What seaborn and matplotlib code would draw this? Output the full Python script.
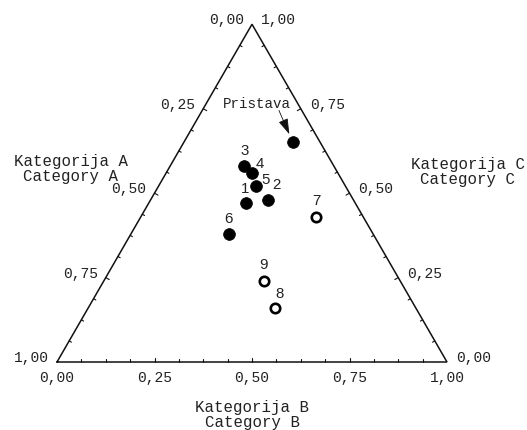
import numpy as np
import pandas as pd
import matplotlib
matplotlib.use("Agg")
import matplotlib.pyplot as plt
import seaborn as sns

# ---- data (fractions of categories A, B, C) ----
labels = ["Pristava", "1", "2", "3", "4", "5", "6", "7", "8", "9"]
cat_a = [0.07, 0.28, 0.22, 0.23, 0.22, 0.23, 0.37, 0.12, 0.36, 0.35]
cat_b = [0.28, 0.25, 0.30, 0.19, 0.22, 0.25, 0.25, 0.45, 0.48, 0.41]
cat_c = [0.65, 0.47, 0.48, 0.58, 0.56, 0.52, 0.38, 0.43, 0.16, 0.24]
marker_kind = ["filled"] * 7 + ["open"] * 3

tick_values = [0.0, 0.25, 0.50, 0.75, 1.0]
tick_text = ["0,00", "0,25", "0,50", "0,75", "1,00"]
title_a = "Kategorija A\nCategory A"
title_b = "Kategorija B\nCategory B"
title_c = "Kategorija C\nCategory C"

# label offsets (pixels) for point numbers
label_offsets = {"1": (-1, 14), "2": (9, 15), "3": (0, 15), "4": (8, 9),
                 "5": (10, 6), "6": (0, 15), "7": (0, 16), "8": (4, 14),
                 "9": (0, 16)}

sns.set_theme(style="white")
plt.rcParams["font.family"] = ["Liberation Mono", "DejaVu Sans"]

H = np.sqrt(3) / 2
df = pd.DataFrame(dict(label=labels, A=cat_a, B=cat_b, C=cat_c, kind=marker_kind))
tot = df.A + df.B + df.C
df["x"] = (df.B + df.C / 2) / tot
df["y"] = df.C * H / tot

fig = plt.figure(figsize=(5.27, 4.30), dpi=100)
ax = fig.add_axes([0, 0, 1, 1])
S = 390.0
ax.set_xlim(-57 / S, 470 / S)
ax.set_ylim(-68 / S, 362 / S)
ax.axis("off")

ink = "#111111"
txt = "#222222"
# triangle frame
ax.plot([0, 1, 0.5, 0], [0, 0, H, 0], color=ink, lw=1.1,
        solid_joinstyle="miter", zorder=2)

# ticks every 1/16
for k in range(1, 16):
    v = k / 16
    L = (4.0 if k % 4 == 0 else 2.6) / S
    # bottom (B)
    ax.plot([v, v], [0, L], color=ink, lw=0.8)
    # left (A)
    px, py = (1 - v) / 2, (1 - v) * H
    ax.plot([px, px + L * H], [py, py - L * 0.5], color=ink, lw=0.8)
    # right (C)
    px, py = 1 - v / 2, v * H
    ax.plot([px, px - L * H], [py, py - L * 0.5], color=ink, lw=0.8)

tfs = 10.5
for v, t in zip(tick_values, tick_text):
    ax.annotate(t, (v, 0), xytext=(0, -16), textcoords="offset pixels",
                ha="center", va="center", fontsize=tfs, color=txt)
    ax.annotate(t, ((1 - v) / 2, (1 - v) * H), xytext=(-8, 4),
                textcoords="offset pixels", ha="right", va="center",
                fontsize=tfs, color=txt)
    ax.annotate(t, (1 - v / 2, v * H), xytext=(9, 4),
                textcoords="offset pixels", ha="left", va="center",
                fontsize=tfs, color=txt)

# axis titles
kw = dict(textcoords="offset pixels", ha="center", va="center",
          fontsize=11.3, color=txt, linespacing=1.05, multialignment="center")
ax.annotate(title_a, (0.25, H / 2), xytext=(-84, 24), **kw)
ax.annotate(title_c, (0.75, H / 2), xytext=(118, 21), **kw)
ax.annotate(title_b, (0.5, 0), xytext=(0, -53), **kw)

# points
filled = df[df.kind == "filled"]
opened = df[df.kind == "open"]
sns.scatterplot(data=filled, x="x", y="y", color="black", edgecolor="black",
                s=72, linewidth=0.5, ax=ax, legend=False, zorder=3)
sns.scatterplot(data=opened, x="x", y="y", color="white", edgecolor="black",
                s=46, linewidth=1.9, ax=ax, legend=False, zorder=3)

for _, r in df.iterrows():
    if r.label in label_offsets:
        ax.annotate(r.label, (r.x, r.y), xytext=label_offsets[r.label],
                    textcoords="offset pixels", ha="center", va="center",
                    fontsize=10.8, family=["Liberation Sans", "DejaVu Sans"],
                    color=txt)
    else:
        ax.annotate(r.label, (r.x, r.y), xytext=(-36, 38),
                    textcoords="offset pixels", ha="center", va="center",
                    fontsize=10.2, color=txt)
        ax.annotate("", (r.x, r.y), xytext=(-14, 32),
                    textcoords="offset pixels",
                    arrowprops=dict(arrowstyle="-|>,head_length=0.8,head_width=0.25",
                                    color=ink, lw=0.6, shrinkA=0, shrinkB=6.5))

ax.set_xlim(-57 / S, 470 / S)
ax.set_ylim(-68 / S, 362 / S)
fig.savefig("out.png", dpi=100)
